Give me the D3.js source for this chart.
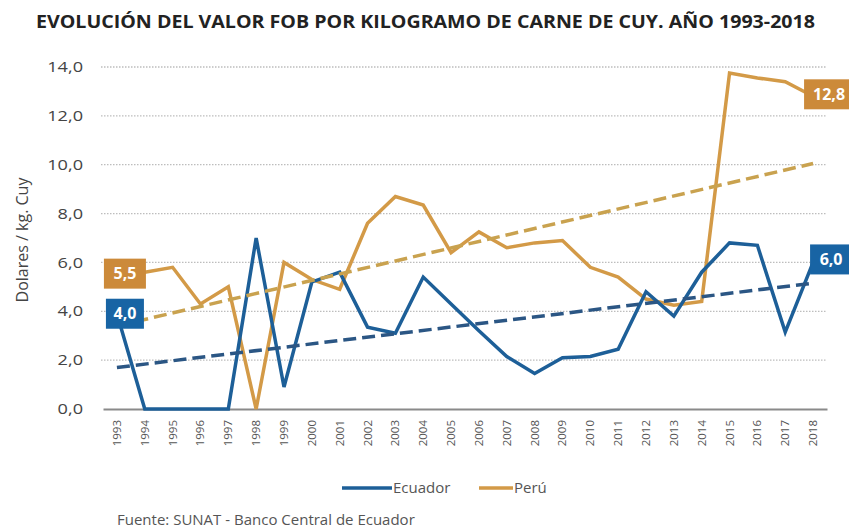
<!DOCTYPE html>
<html lang="es">
  <head>
    <meta charset="utf-8">
    <title>Valor FOB carne de cuy</title>
    <script src="https://d3js.org/d3.v7.min.js"></script>
    <style>
    body { margin: 0; background: #fff; }
    svg text { font-family: "Open Sans", "DejaVu Sans", sans-serif; }
    </style>
  </head>
  <body>
    <div id="chart"></div>

    <script>
        // data
        const years = ["1993","1994","1995","1996","1997","1998","1999","2000","2001","2002","2003","2004","2005",
                       "2006","2007","2008","2009","2010","2011","2012","2013","2014","2015","2016","2017","2018"]
        const ecuador = [3.9, 0, 0, 0, 0, 7.0, 0.9, 5.2, 5.6, 3.35, 3.1, 5.4, 4.3,
                         3.2, 2.15, 1.45, 2.1, 2.15, 2.45, 4.8, 3.8, 5.6, 6.8, 6.7, 3.15, 6.0]
        const peru = [5.5, 5.6, 5.8, 4.3, 5.0, 0, 6.0, 5.3, 4.9, 7.6, 8.7, 8.35, 6.4,
                      7.25, 6.6, 6.8, 6.9, 5.8, 5.4, 4.5, 4.25, 4.4, 13.75, 13.55, 13.4, 12.8]
        // trend line end values (first year, last year)
        const ecuadorTrend = [1.7, 5.15]
        const peruTrend = [3.4, 10.05]
        const yTicks = [0, 2, 4, 6, 8, 10, 12, 14]
        const startLabels = ["5,5", "4,0"]   // peru, ecuador
        const endLabels = ["12,8", "6,0"]

        const colors = {
            ecuador: "#1d5f98",
            peru: "#d39a47",
            ecuadorBox: "#1864a4",
            peruBox: "#cc8a3a",
            ecuadorTrend: "#2b5684",
            peruTrend: "#c9a24f"
        }

        const width = 849, height = 529
        const svg = d3.select("#chart").append("svg")
            .attr("width", width)
            .attr("height", height)

        const x = d3.scaleBand()
            .domain(years)
            .range([103, 827])
        const xc = function(d) { return x(d) + x.bandwidth() / 2 }

        const y = d3.scaleLinear()
            .domain([0, 14])
            .range([409, 67])

        // title
        svg.append("text")
            .attr("x", 36)
            .attr("y", 28)
            .attr("textLength", 779)
            .attr("lengthAdjust", "spacingAndGlyphs")
            .style("font-size", "17.5px")
            .style("font-weight", "bold")
            .style("fill", "#222")
            .text("EVOLUCIÓN DEL VALOR FOB POR KILOGRAMO DE CARNE DE CUY.  AÑO 1993-2018")

        // gridlines
        svg.append("g")
            .selectAll("line")
            .data(yTicks.slice(1))
            .enter()
            .append("line")
            .attr("x1", 101)
            .attr("x2", 827)
            .attr("y1", d => y(d))
            .attr("y2", d => y(d))
            .attr("stroke", "#bdbdbd")
            .attr("stroke-width", 1.3)
            .attr("stroke-dasharray", "1.5,1.5")

        // y axis labels
        const yAxis = d3.axisLeft(y)
            .tickValues(yTicks)
            .tickSize(0)
            .tickPadding(16)
            .tickFormat(d => d3.format(".1f")(d).replace(".", ","))
        const gy = svg.append("g")
            .attr("transform", "translate(103,0)")
            .call(yAxis)
        gy.select(".domain").remove()
        gy.selectAll("text")
            .attr("transform", "scale(1.25,1)")
            .style("font-size", "14.5px")
            .style("fill", "#444")
            .style("font-family", "'Open Sans', sans-serif")

        // y axis title
        svg.append("text")
            .attr("transform", "translate(28,240) rotate(-90)")
            .style("text-anchor", "middle")
            .style("font-size", "16px")
            .style("fill", "#444")
            .text("Dolares / kg. Cuy")

        // x axis
        const xAxis = d3.axisBottom(x).tickSize(0).tickPadding(8)
        const gx = svg.append("g")
            .attr("transform", "translate(0,409)")
            .call(xAxis)
        gx.select(".domain")
            .attr("stroke", "#8a8a8a")
            .attr("stroke-width", 2.2)
        gx.selectAll("text")
            .attr("transform", "rotate(-90)")
            .attr("x", -11)
            .attr("y", 0)
            .attr("dy", "0.35em")
            .style("text-anchor", "end")
            .style("font-size", "11.5px")
            .style("fill", "#555")
            .style("font-family", "'Open Sans', sans-serif")

        // trend lines
        function drawTrend(vals, color) {
            svg.append("line")
                .attr("x1", xc(years[0]))
                .attr("x2", xc(years[years.length - 1]))
                .attr("y1", y(vals[0]))
                .attr("y2", y(vals[1]))
                .attr("stroke", color)
                .attr("stroke-width", 3.5)
                .attr("stroke-dasharray", "13,6")
        }

        const line = d3.line()
            .x((d, i) => xc(years[i]))
            .y(d => y(d))

        function drawSeries(vals, color) {
            svg.append("path")
                .datum(vals)
                .attr("d", line)
                .attr("fill", "none")
                .attr("stroke", color)
                .attr("stroke-width", 3.5)
                .attr("stroke-linejoin", "miter")
        }

        drawSeries(peru, colors.peru)
        drawSeries(ecuador, colors.ecuador)
        drawTrend(peruTrend, colors.peruTrend)
        drawTrend(ecuadorTrend, colors.ecuadorTrend)

        // value boxes
        function valueBox(cx, cy, w, txt, fill) {
            svg.append("rect")
                .attr("x", cx - w / 2)
                .attr("y", cy - 15)
                .attr("width", w)
                .attr("height", 30)
                .attr("fill", fill)
            svg.append("text")
                .attr("x", cx)
                .attr("y", cy)
                .attr("dy", "0.36em")
                .style("text-anchor", "middle")
                .style("font-size", "16px")
                .style("font-weight", "bold")
                .style("fill", "#fff")
                .text(txt)
        }
        valueBox(xc(years[0]) + 8, y(peru[0]) - 1, 42, startLabels[0], colors.peruBox)
        valueBox(xc(years[0]) + 8, y(ecuador[0]), 38, startLabels[1], colors.ecuadorBox)
        valueBox(xc(years[25]) + 16, y(peru[25]) - 2, 50, endLabels[0], colors.peruBox)
        valueBox(xc(years[25]) + 18, y(ecuador[25]) - 3, 42, endLabels[1], colors.ecuadorBox)

        // legend
        const legend = [
            { name: "Ecuador", color: colors.ecuador, x: 342 },
            { name: "Perú", color: colors.peru, x: 479 }
        ]
        const lg = svg.append("g")
            .selectAll("g")
            .data(legend)
            .enter()
            .append("g")
            .attr("transform", d => "translate(" + d.x + ",488)")
        lg.append("line")
            .attr("x1", 0)
            .attr("x2", d => d.name === "Perú" ? 34 : 50)
            .attr("stroke", d => d.color)
            .attr("stroke-width", 3.5)
        lg.append("text")
            .attr("x", d => d.name === "Perú" ? 35 : 51)
            .attr("dy", "0.35em")
            .style("font-size", "15px")
            .style("fill", "#555")
            .text(d => d.name)

        // source
        svg.append("text")
            .attr("x", 117)
            .attr("y", 525)
            .style("font-size", "15px")
            .style("fill", "#555")
            .text("Fuente: SUNAT - Banco Central de Ecuador")
    </script>
  </body>
</html>
